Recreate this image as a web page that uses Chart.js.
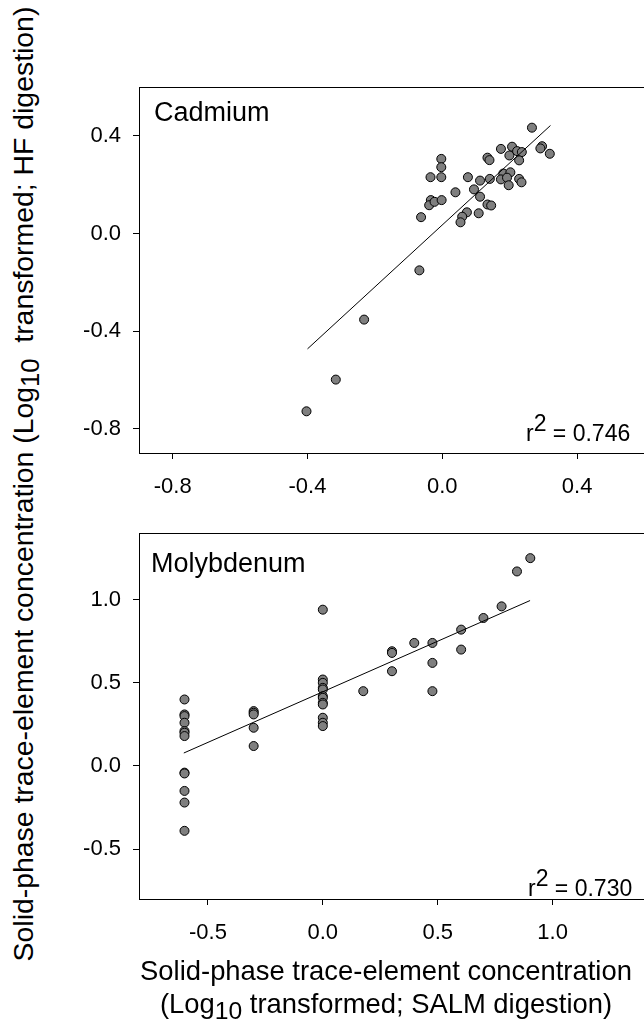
<!DOCTYPE html>
<html>
<head>
<meta charset="utf-8">
<script src="https://cdn.jsdelivr.net/npm/chart.js@4.4.1/dist/chart.umd.min.js"></script>
<style>
  body { margin: 0; width: 644px; height: 1025px; background: #fff; overflow: hidden; position: relative;
         font-family: "Liberation Sans", Arial, sans-serif; color: #000; }
  canvas { position: absolute; }
  .lbl { position: absolute; white-space: nowrap; }
  .panel { font-size: 27px; line-height: 27px; }
  .r2 { font-size: 23px; line-height: 23px; }
  .r2 span { position: relative; top: -10px; }
  #ytitle { position: absolute; left: 23px; top: 484px; font-size: 28.4px; line-height: 34px; white-space: nowrap;
            transform: translate(-50%, -50%) rotate(-90deg); }
  #xtitle { position: absolute; left: 386px; top: 954px; transform: translateX(-50%); font-size: 27.4px;
            line-height: 33px; text-align: center; white-space: nowrap; }
  sub { font-size: 0.9em; vertical-align: -0.25em; line-height: 0; }
</style>
</head>
<body>
<canvas id="cd" width="590" height="451" style="left:60px; top:62px"></canvas>
<canvas id="mo" width="590" height="451" style="left:60px; top:508px"></canvas>

<div class="lbl panel" style="left:154px; top:99px">Cadmium</div>
<div class="lbl panel" style="left:151px; top:550px">Molybdenum</div>
<div class="lbl r2" style="left:526px; top:422px">r<span>2</span> = 0.746</div>
<div class="lbl r2" style="left:528px; top:877px">r<span>2</span> = 0.730</div>

<div id="ytitle">Solid-phase trace-element concentration (Log<sub>10</sub>&nbsp; transformed; HF digestion)</div>
<div id="xtitle">Solid-phase trace-element concentration<br>(Log<sub>10</sub> transformed; SALM digestion)</div>

<script>
// Cadmium (top panel)
var cdX = [0.266, 0.296, 0.291, 0.319, 0.174, 0.207, 0.199, 0.222, 0.236, 0.228, 0.134, 0.140,
           -0.003, -0.003, -0.035, -0.003, 0.076, 0.112, 0.141, 0.181, 0.202, 0.174, 0.192, 0.197,
           0.228, 0.235, 0.039, 0.094, 0.112, -0.034, -0.039, -0.023, -0.002, 0.134, 0.145, -0.063,
           0.073, 0.059, 0.054, 0.108, -0.068, -0.232, -0.316, -0.403];
var cdY = [0.434, 0.358, 0.349, 0.327, 0.347, 0.356, 0.320, 0.338, 0.334, 0.300, 0.311, 0.301,
           0.306, 0.272, 0.231, 0.231, 0.231, 0.217, 0.224, 0.246, 0.251, 0.222, 0.229, 0.198,
           0.224, 0.210, 0.169, 0.181, 0.151, 0.137, 0.116, 0.130, 0.137, 0.119, 0.115, 0.067,
           0.087, 0.069, 0.046, 0.083, -0.151, -0.353, -0.599, -0.729];
var cdFitX = [-0.400, 0.321];
var cdFitY = [-0.473, 0.443];
var cdXTicks = [-0.8, -0.4, 0.0, 0.4];
var cdYTicks = [-0.8, -0.4, 0.0, 0.4];

// Molybdenum (bottom panel)
var moX = [-0.602, -0.602, -0.602, -0.602, -0.602, -0.602, -0.602, -0.602, -0.602, -0.602, -0.602, -0.602,
           -0.301, -0.301, -0.301, -0.301, -0.301,
           0, 0, 0, 0, 0, 0, 0, 0, 0, 0, 0, 0,
           0.176, 0.301, 0.301, 0.301, 0.398, 0.477, 0.477, 0.477,
           0.602, 0.602, 0.699, 0.778, 0.845, 0.903];
var moY = [0.40, 0.31, 0.30, 0.26, 0.21, 0.20, 0.18, -0.04, -0.045, -0.15, -0.22, -0.39,
           0.33, 0.32, 0.31, 0.23, 0.12,
           0.94, 0.52, 0.50, 0.47, 0.46, 0.42, 0.41, 0.38, 0.37, 0.29, 0.26, 0.24,
           0.45, 0.69, 0.68, 0.57, 0.74, 0.74, 0.62, 0.45,
           0.82, 0.70, 0.89, 0.96, 1.17, 1.25];
var moFitX = [-0.605, 0.902];
var moFitY = [0.078, 0.995];
var moXTicks = [-0.5, 0.0, 0.5, 1.0];
var moYTicks = [-0.5, 0.0, 0.5, 1.0];

var tickFont = { family: "'Liberation Sans', Arial, sans-serif", size: 22 };

function pairs(xs, ys) {
    return xs.map(function (x, i) { return { x: x, y: ys[i] }; });
}

var topBorder = {
    id: 'topBorder',
    afterDraw: function (chart) {
        var ctx = chart.ctx, a = chart.chartArea;
        var y = Math.round(a.top) + 0.5;
        ctx.save();
        ctx.strokeStyle = '#000';
        ctx.lineWidth = 1;
        ctx.beginPath();
        ctx.moveTo(a.left, y);
        ctx.lineTo(a.right, y);
        ctx.stroke();
        ctx.restore();
    }
};

function axis(min, max, ticks, fit) {
    return {
        type: 'linear',
        min: min,
        max: max,
        afterBuildTicks: function (s) { s.ticks = ticks.map(function (v) { return { value: v }; }); },
        afterFit: fit,
        ticks: {
            color: '#000',
            font: tickFont,
            autoSkip: false,
            maxRotation: 0,
            callback: function (v) { return v.toFixed(1); }
        },
        grid: { drawOnChartArea: false, tickLength: 6, color: '#000', lineWidth: 1 },
        border: { color: '#000', width: 1 }
    };
}

function drawPanel(id, xs, ys, fx, fy, xMin, xMax, yMin, yMax, xTicks, yTicks) {
    var xAxis = axis(xMin, xMax, xTicks, function (s) { s.height = 60; });
    xAxis.ticks.padding = 15;
    var yAxis = axis(yMin, yMax, yTicks, function (s) { s.width = 79; });
    yAxis.ticks.padding = 12;

    new Chart(document.getElementById(id), {
        type: 'scatter',
        data: {
            datasets: [{
                type: 'line',
                data: pairs(fx, fy),
                borderColor: '#000',
                borderWidth: 1,
                pointRadius: 0,
                fill: false
            }, {
                data: pairs(xs, ys),
                backgroundColor: '#7f7f7f',
                borderColor: '#000',
                borderWidth: 1,
                pointRadius: 4.5
            }]
        },
        options: {
            responsive: false,
            animation: false,
            layout: { padding: 0 },
            plugins: { legend: { display: false }, tooltip: { enabled: false } },
            scales: { x: xAxis, y: yAxis }
        },
        plugins: [topBorder]
    });
}

drawPanel('cd', cdX, cdY, cdFitX, cdFitY, -0.9, 0.6, -0.9, 0.6, cdXTicks, cdYTicks);
drawPanel('mo', moX, moY, moFitX, moFitY, -0.8, 1.4, -0.8, 1.4, moXTicks, moYTicks);
</script>
</body>
</html>
